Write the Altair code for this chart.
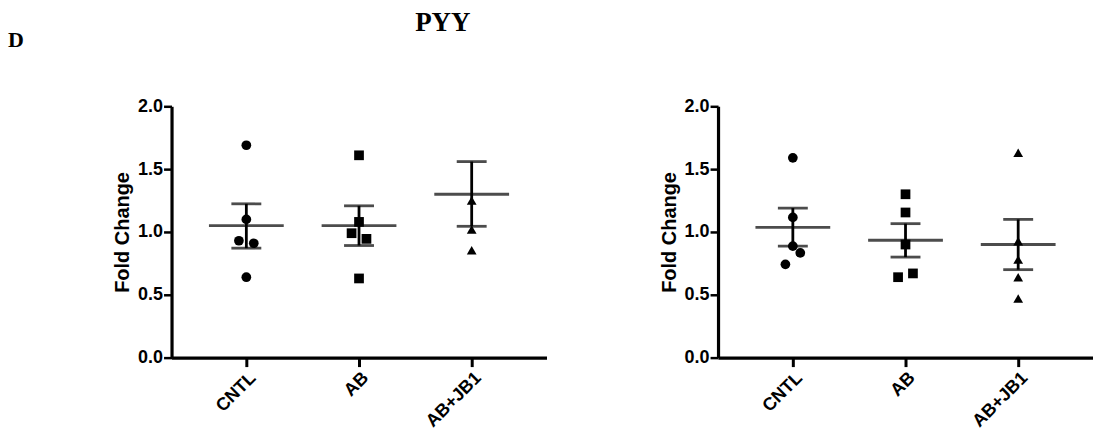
import altair as alt
import pandas as pd

groups = ["CNTL", "AB", "AB+JB1"]

# Left panel individual points
left_group = ["CNTL"] * 5 + ["AB"] * 5 + ["AB+JB1"] * 3
left_vals = [1.69, 1.10, 0.93, 0.91, 0.64,
             1.61, 1.08, 0.99, 0.945, 0.63,
             1.25, 1.02, 0.855]
left_jit = [0, 0, -1, 1, 0,
            0, 0, -1, 1, 0,
            0, 0, 0]
left_mean = [1.05, 1.05, 1.30]
left_upper = [1.224, 1.208, 1.56]
left_lower = [0.871, 0.892, 1.045]

# Right panel individual points
right_group = ["CNTL"] * 5 + ["AB"] * 5 + ["AB+JB1"] * 5
right_vals = [1.59, 1.116, 0.887, 0.834, 0.742,
              1.30, 1.155, 0.90, 0.67, 0.64,
              1.63, 0.926, 0.78, 0.64, 0.47]
right_jit = [0, 0, 0, 1, -1,
             0, 0, 0, 1, -1,
             0, 0, 0, 0, 0]
right_mean = [1.037, 0.934, 0.90]
right_upper = [1.19, 1.066, 1.10]
right_lower = [0.887, 0.80, 0.70]

y_ticks = [0.0, 0.5, 1.0, 1.5, 2.0]

AXIS_FONT = "Liberation Sans"
TITLE_FONT = "Liberation Serif"
JIT = 0.066

pos_of = {g: i + 1 for i, g in enumerate(groups)}
label_expr = "datum.value == 1 ? 'CNTL' : datum.value == 2 ? 'AB' : datum.value == 3 ? 'AB+JB1' : ''"

x_scale = alt.Scale(domain=[0.336, 3.664], nice=False, zero=False)
y_scale = alt.Scale(domain=[0, 2], nice=False)

x_axis = alt.Axis(values=[1, 2, 3], labelExpr=label_expr, labelAngle=-45,
                  title=None, grid=False, domainWidth=3.2, domainColor="black",
                  tickWidth=3, tickColor="black", tickSize=9,
                  labelFont=AXIS_FONT, labelFontWeight="bold", labelFontSize=18,
                  labelColor="black", labelPadding=2)
y_axis = alt.Axis(values=y_ticks, format=".1f", title="Fold Change", grid=False,
                  domainWidth=3.2, domainColor="black", tickWidth=2.5, tickColor="black",
                  tickSize=8, labelFont=AXIS_FONT, labelFontWeight="bold",
                  labelFontSize=18, labelColor="black", labelPadding=1,
                  titleFont=AXIS_FONT, titleFontWeight="bold", titleFontSize=20,
                  titleColor="black", titlePadding=5)


def panel(grp, vals, jit, mean, upper, lower, extra=None):
    pts = pd.DataFrame({
        "group": grp,
        "value": vals,
        "x": [pos_of[g] + j * JIT for g, j in zip(grp, jit)],
    })
    summ = pd.DataFrame({
        "group": groups,
        "x": [pos_of[g] for g in groups],
        "mean": mean,
        "upper": upper,
        "lower": lower,
    })
    shape_scale = alt.Scale(domain=groups, range=["circle", "square", "triangle-up"])
    points = alt.Chart(pts).mark_point(filled=True, color="black", opacity=1, size=95).encode(
        x=alt.X("x:Q", scale=x_scale, axis=x_axis),
        y=alt.Y("value:Q", scale=y_scale, axis=y_axis),
        shape=alt.Shape("group:N", scale=shape_scale, legend=None),
    )
    base = alt.Chart(summ)
    mean_tick = base.mark_tick(orient="horizontal", size=75, thickness=2.8, color="black").encode(
        x=alt.X("x:Q", scale=x_scale), y=alt.Y("mean:Q", scale=y_scale))
    up_tick = base.mark_tick(orient="horizontal", size=30, thickness=2.8, color="black").encode(
        x=alt.X("x:Q", scale=x_scale), y=alt.Y("upper:Q", scale=y_scale))
    lo_tick = base.mark_tick(orient="horizontal", size=30, thickness=2.8, color="black").encode(
        x=alt.X("x:Q", scale=x_scale), y=alt.Y("lower:Q", scale=y_scale))
    rule = base.mark_rule(strokeWidth=2.8, color="black").encode(
        x=alt.X("x:Q", scale=x_scale), y=alt.Y("lower:Q", scale=y_scale), y2="upper:Q")
    layers = [rule, mean_tick, up_tick, lo_tick, points]
    if extra:
        layers += extra
    return alt.layer(*layers).properties(width=376, height=252)


title_df = pd.DataFrame({"t": ["PYY"]})
letter_df = pd.DataFrame({"t": ["D"]})
pyy = alt.Chart(title_df).mark_text(font=TITLE_FONT, fontWeight="bold", fontSize=27,
                                    align="center", baseline="alphabetic", color="black").encode(
    text="t:N", x=alt.value(272), y=alt.value(-76))
dlet = alt.Chart(letter_df).mark_text(font=TITLE_FONT, fontWeight="bold", fontSize=22,
                                      align="left", baseline="alphabetic", color="black").encode(
    text="t:N", x=alt.value(-164), y=alt.value(-59))

left = panel(left_group, left_vals, left_jit, left_mean, left_upper, left_lower, extra=[pyy, dlet])
right = panel(right_group, right_vals, right_jit, right_mean, right_upper, right_lower)

chart = alt.hconcat(left, right, spacing=112).properties(
    padding={"left": 8, "top": 8, "right": 0, "bottom": 0},
    background="white",
).configure_view(stroke=None)

chart.save("out.html", embed_options={"renderer": "svg", "actions": False})
